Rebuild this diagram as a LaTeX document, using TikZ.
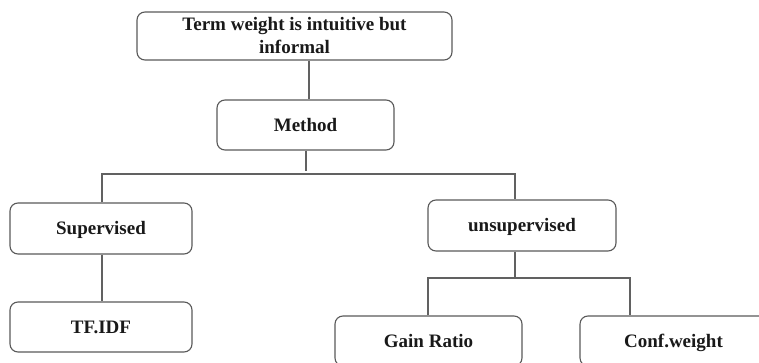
\documentclass[tikz,border=0pt]{standalone}
\usepackage{fontspec}
\setmainfont{Liberation Serif}
\begin{document}
\begin{tikzpicture}[x=1pt,y=-1pt,
  box/.style={draw=black!65, line width=1.1pt, rounded corners=8pt, align=center,
    inner sep=0pt, font=\fontsize{19}{23}\selectfont\bfseries, text=black!90},
  onebox/.style={box, text height=12.5pt, text depth=0pt},
  link/.style={draw=black!62, line width=1.1pt}]
  \useasboundingbox (0,0) rectangle (759,363);
  % boxes
  \node[box, minimum width=315pt, minimum height=48pt] (top) at (294.5,36)
    {Term weight is intuitive but\\informal};
  \node[onebox, minimum width=177pt, minimum height=50pt] (method) at (305.5,125) {Method};
  \node[onebox, minimum width=182pt, minimum height=51pt] (sup) at (101,228.5) {Supervised};
  \node[onebox, minimum width=182pt, minimum height=50pt] (tfidf) at (101,327) {TF.IDF};
  \node[onebox, minimum width=188pt, minimum height=51pt] (unsup) at (522,225.5) {unsupervised};
  \node[onebox, minimum width=187pt, minimum height=50pt] (gain) at (428.5,341) {Gain Ratio};
  \node[onebox, minimum width=187pt, minimum height=50pt] (conf) at (673.5,341) {Conf.weight};
  % bus points of the tree
  \coordinate (t1) at (309,0);
  \coordinate (m1) at (306,174);
  \coordinate (bl) at (102,174);
  \coordinate (br) at (515,174);
  \coordinate (u1) at (515,278);
  \coordinate (gl) at (428,278);
  \coordinate (cr) at (630,278);
  % connectors
  \draw[link] (top.south -| t1) -- (method.north -| t1);
  \draw[link] (method.south -| m1) -- ([yshift=3pt]m1);
  \draw[link] (sup.north -| bl) -- (bl) -- (br) -- (unsup.north -| br);
  \draw[link] (sup.south -| bl) -- (tfidf.north -| bl);
  \draw[link] (unsup.south -| u1) -- (u1);
  \draw[link] (gain.north -| gl) -- (gl) -- (cr) -- (conf.north -| cr);
\end{tikzpicture}
\end{document}
